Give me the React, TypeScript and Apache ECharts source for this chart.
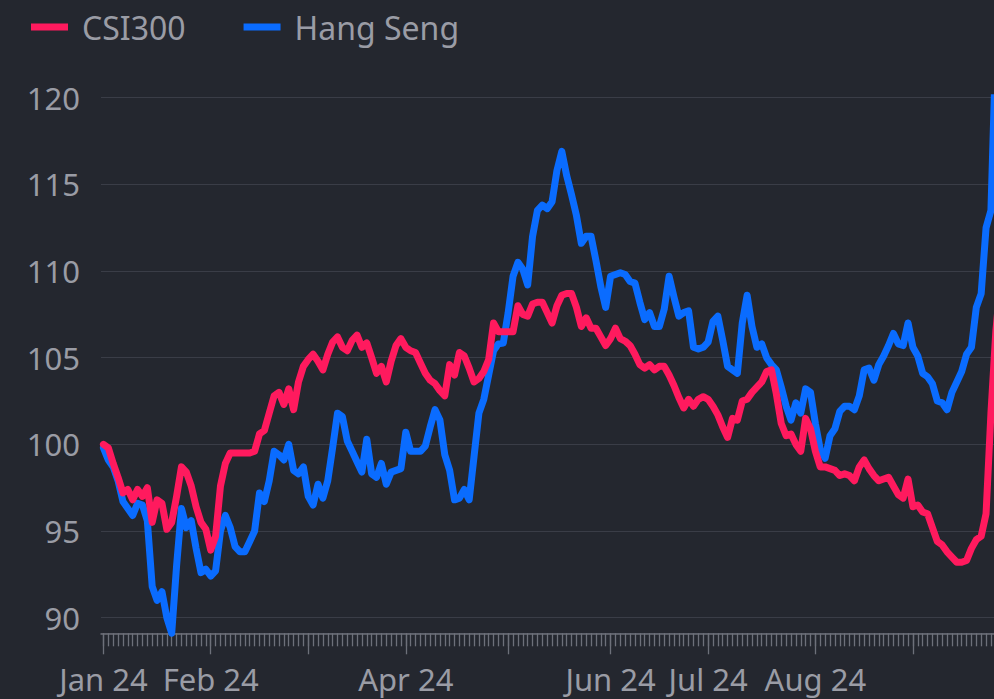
import React, { useEffect, useRef } from 'react';
import * as echarts from 'echarts';

// Month blocks of the category axis (one category per trading day)
const MONTHS = ['Jan 24', 'Feb 24', 'Mar 24', 'Apr 24', 'May 24', 'Jun 24', 'Jul 24', 'Aug 24', 'Sep 24'];
const MONTH_DAYS = [22, 20, 20, 21, 21, 20, 22, 20, 20];
const SHOWN_MONTH_LABELS = ['Jan 24', 'Feb 24', 'Apr 24', 'Jun 24', 'Jul 24', 'Aug 24'];

const SERIES_NAMES = ['CSI300', 'Hang Seng'];

const csi300 = [
  100.0, 99.8, 98.9, 98.1, 97.2, 97.4, 96.8, 97.4, 97.0, 97.5,
  95.5, 96.8, 96.6, 95.1, 95.5, 97.0, 98.7, 98.4, 97.6, 96.4,
  95.5, 95.1, 93.9, 94.7, 97.6, 98.9, 99.5, 99.5, 99.5, 99.5,
  99.5, 99.6, 100.6, 100.8, 101.8, 102.8, 103.0, 102.3, 103.2, 102.0,
  103.6, 104.5, 104.9, 105.2, 104.8, 104.3, 105.2, 105.9, 106.2, 105.6,
  105.4, 106.0, 106.3, 105.6, 105.85, 105.0, 104.1, 104.5, 103.6, 104.8,
  105.7, 106.1, 105.6, 105.4, 105.3, 104.7, 104.1, 103.7, 103.5, 103.1,
  102.8, 104.6, 104.0, 105.3, 105.1, 104.4, 103.6, 103.8, 104.2, 104.9,
  107.0, 106.5, 106.5, 106.5, 106.5, 108.0, 107.5, 107.4, 108.1, 108.2,
  108.2, 107.6, 107.0, 108.0, 108.6, 108.7, 108.7, 107.9, 106.8, 107.3,
  106.7, 106.7, 106.2, 105.7, 106.1, 106.7, 106.1, 105.95, 105.7, 105.2,
  104.6, 104.4, 104.6, 104.3, 104.5, 104.5, 104.0, 103.4, 102.7, 102.1,
  102.6, 102.2, 102.6, 102.75, 102.6, 102.2, 101.7, 101.0, 100.4, 101.5,
  101.4, 102.5, 102.6, 103.0, 103.3, 103.6, 104.2, 104.3, 102.9, 101.2,
  100.5, 100.6, 100.0, 99.6, 101.5, 100.9, 99.6, 98.7, 98.7, 98.6,
  98.5, 98.2, 98.3, 98.2, 97.9, 98.7, 99.1, 98.6, 98.2, 97.9,
  98.0, 98.1, 97.6, 97.1, 96.9, 98.0, 96.4, 96.5, 96.1, 96.0,
  95.2, 94.4, 94.2, 93.8, 93.5, 93.2, 93.2, 93.3, 94.0, 94.5,
  94.7, 96.0, 101.8, 106.5, 109.5, 112.0,
];

const hangSeng = [
  99.8, 99.1, 98.7, 97.9, 96.7, 96.3, 95.9, 96.6, 96.5, 95.6,
  91.8, 91.0, 91.5, 90.0, 89.1, 93.0, 96.3, 95.2, 95.6, 94.0,
  92.6, 92.8, 92.4, 92.7, 95.0, 95.9, 95.2, 94.1, 93.8, 93.8,
  94.4, 95.0, 97.2, 96.7, 97.9, 99.6, 99.4, 99.1, 100.0, 98.5,
  98.3, 98.7, 97.0, 96.5, 97.7, 96.9, 97.9, 99.8, 101.8, 101.6,
  100.2, 99.6, 99.0, 98.4, 100.3, 98.3, 98.1, 98.9, 97.7, 98.4,
  98.5, 98.6, 100.7, 99.6, 99.6, 99.6, 99.9, 101.0, 102.0, 101.4,
  99.4, 98.5, 96.8, 96.9, 97.4, 96.8, 99.3, 101.8, 102.6, 104.0,
  105.4, 105.8, 105.85, 107.6, 109.7, 110.5, 110.1, 109.2, 112.0, 113.5,
  113.8, 113.6, 114.0, 115.8, 116.9, 115.5, 114.4, 113.2, 111.6, 112.0,
  112.0, 110.6, 109.1, 107.9, 109.7, 109.8, 109.9, 109.8, 109.4, 109.3,
  108.2, 107.2, 107.6, 106.8, 106.8, 107.8, 109.7, 108.5, 107.4, 107.6,
  107.7, 105.6, 105.5, 105.6, 105.9, 107.1, 107.4, 106.0, 104.5, 104.3,
  104.1, 107.0, 108.6, 106.8, 105.6, 105.8, 105.0, 104.6, 104.3, 103.3,
  102.2, 101.4, 102.4, 101.8, 103.2, 103.0, 101.2, 99.7, 99.2, 100.5,
  100.9, 101.9, 102.2, 102.2, 102.0, 102.8, 104.3, 104.4, 103.7, 104.6,
  105.1, 105.7, 106.4, 105.8, 105.7, 107.0, 105.6, 105.1, 104.1, 103.9,
  103.5, 102.5, 102.4, 102.0, 103.0, 103.6, 104.2, 105.2, 105.6, 107.9,
  108.7, 112.5, 113.5, 123.0, 124.5, 126.0,
];

const Y_MIN = 89.1;
const Y_MAX = 120;

const BG = '#24272f';
const TEXT = '#9a9ca5';
const GRID = '#3a3d47';
const AXIS = '#6d707a';
const RED = '#ff1a5e';
const BLUE = '#0a6cff';
const FONT = '"Noto Sans", sans-serif';

// build categories from month blocks
const categories: string[] = [];
const monthStartIdx: number[] = [];
MONTHS.forEach((m, mi) => {
  monthStartIdx.push(categories.length);
  for (let d = 1; d <= MONTH_DAYS[mi]; d++) categories.push(`${m} #${d}`);
});
const labelIdx = monthStartIdx.filter((_, mi) => SHOWN_MONTH_LABELS.includes(MONTHS[mi]));

export default function App() {
  const ref = useRef<HTMLDivElement>(null);
  useEffect(() => {
    const chart = echarts.init(ref.current!, null, { renderer: 'svg' });
    chart.setOption({
      animation: false,
      backgroundColor: BG,
      textStyle: { fontFamily: FONT },
      legend: {
        top: 6,
        left: 26,
        icon: 'rect',
        itemWidth: 37,
        itemHeight: 7,
        itemGap: 58,
        data: SERIES_NAMES,
        textStyle: { color: TEXT, fontSize: 32, fontFamily: FONT, padding: [0, 0, 0, 9] },
      },
      grid: { left: 101, right: 2, top: 97.7, bottom: 65.7, containLabel: false },
      xAxis: [
        {
          type: 'category',
          data: categories,
          position: 'bottom',
          boundaryGap: true,
          axisLine: { show: true, lineStyle: { color: AXIS, width: 1.5 } },
          axisTick: { show: true, interval: 0, alignWithLabel: true, length: 13, lineStyle: { color: AXIS, width: 1.3 } },
          axisLabel: { show: false },
          splitLine: { show: false },
        },
        {
          type: 'category',
          data: categories,
          position: 'bottom',
          boundaryGap: true,
          axisLine: { show: false },
          axisTick: {
            show: true,
            alignWithLabel: true,
            length: 21,
            interval: (i: number) => monthStartIdx.includes(i),
            lineStyle: { color: AXIS, width: 1.3 },
          },
          axisLabel: {
            show: true,
            interval: (i: number) => labelIdx.includes(i),
            formatter: (v: string) => v.split(' #')[0],
            color: TEXT,
            fontSize: 31,
            fontFamily: FONT,
            margin: 30,
          },
          splitLine: { show: false },
        },
      ],
      yAxis: {
        type: 'value',
        min: Y_MIN,
        max: Y_MAX,
        axisLine: { show: false },
        axisTick: { show: false },
        axisLabel: {
          color: TEXT,
          fontSize: 31,
          fontFamily: FONT,
          margin: 21,
          formatter: (v: number) => (Math.abs(v % 5) < 1e-6 ? String(v) : ''),
        },
        splitLine: { show: true, lineStyle: { color: GRID, width: 1.2 } },
      },
      series: [
        {
          name: SERIES_NAMES[0],
          type: 'line',
          data: csi300,
          xAxisIndex: 0,
          showSymbol: false,
          symbol: 'none',
          z: 3,
          lineStyle: { color: RED, width: 7, join: 'round', cap: 'round' },
          itemStyle: { color: RED },
        },
        {
          name: SERIES_NAMES[1],
          type: 'line',
          data: hangSeng,
          xAxisIndex: 0,
          showSymbol: false,
          symbol: 'none',
          z: 2,
          lineStyle: { color: BLUE, width: 7, join: 'round', cap: 'round' },
          itemStyle: { color: BLUE },
        },
      ],
    });
    return () => chart.dispose();
  }, []);
  return (
    <div style={{ position: 'fixed', left: 0, top: 0, width: 994, height: 699, overflow: 'hidden', background: BG }}>
      <div ref={ref} style={{ width: 1010, height: 699 }} />
    </div>
  );
}
